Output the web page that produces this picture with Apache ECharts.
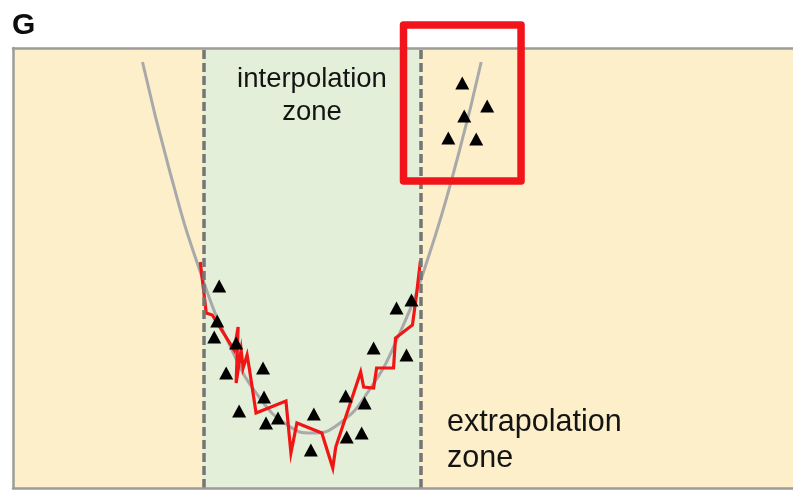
<!DOCTYPE html>
<html>
<head>
<meta charset="utf-8">
<script src="https://cdn.jsdelivr.net/npm/echarts@6/dist/echarts.min.js"></script>
<style>
  html, body { margin: 0; padding: 0; background: #ffffff; }
  #chart { width: 793px; height: 491px; }
</style>
</head>
<body>
<div id="chart"></div>
<script>
// Smooth underlying trend (grey curve), sampled along its course
const trendCurve = [
  [130, 426], [157, 318], [187, 219], [217, 144], [247, 91], [277, 62],
  [300, 55], [327, 64], [357, 97], [387, 152], [417, 231], [447, 333], [470, 426]
];

// Jagged model fit inside the interpolation zone (red line)
const modelFit = [
  [188, 226], [194, 175], [200, 173], [222, 138], [226, 161], [224, 105],
  [229, 138], [231, 120], [235, 133], [237, 121], [244, 75], [274, 87],
  [279, 35], [285, 65], [310, 55], [321, 20], [324, 41], [349, 116],
  [352, 101], [362, 100], [365, 120], [382, 120], [384, 150], [401, 163],
  [405, 193], [409, 227]
];

// Observed samples within the training range
const samplesInside = [
  [207, 202], [205, 167], [202, 151], [224, 145], [214, 115], [251, 120],
  [227, 77], [252, 91], [254, 65], [266, 70], [302, 74], [299, 38],
  [334, 92], [353, 85], [335, 51], [350, 55], [362, 140], [395, 133],
  [385, 180], [400, 188]
];

// Observed samples beyond the training range
const samplesOutside = [
  [451, 405], [476, 382], [453, 372], [437, 350], [465, 349]
];

// Edges of the interpolation zone
const zoneEdges = [191, 409];

// Highlight box around the out-of-range samples: [left, right, bottom, top]
const boxBounds = [392, 510, 307, 463];

const panelLetter = 'G';
const innerLabel = 'interpolation\nzone';
const outerLabel = 'extrapolation\nzone';

const boxPath = [
  [boxBounds[0], boxBounds[3]], [boxBounds[1], boxBounds[3]],
  [boxBounds[1], boxBounds[2]], [boxBounds[0], boxBounds[2]],
  [boxBounds[0], boxBounds[3]], [boxBounds[1], boxBounds[3]]
];

const FONT = '"Liberation Sans", Arial, Helvetica, sans-serif';
const frameLine = { show: true, onZero: false, lineStyle: { color: '#9d9c98', width: 2.5 } };
const hidden = { axisTick: { show: false }, axisLabel: { show: false }, splitLine: { show: false } };

const chart = echarts.init(document.getElementById('chart'), null, { renderer: 'canvas' });

chart.setOption({
  animation: false,
  grid: { left: 13, right: -3, top: 48, bottom: 3, show: true, backgroundColor: '#fdefca', borderWidth: 0 },
  xAxis: [
    Object.assign({ type: 'value', min: 0, max: 783, position: 'bottom', axisLine: frameLine, z: 6 }, hidden),
    Object.assign({ type: 'value', min: 0, max: 783, position: 'top', axisLine: frameLine, z: 6 }, hidden)
  ],
  yAxis: Object.assign({ type: 'value', min: 0, max: 440, position: 'left', axisLine: frameLine, z: 6 }, hidden),
  series: [
    {
      type: 'scatter', data: [], z: 1, silent: true,
      markArea: {
        silent: true,
        itemStyle: { color: '#e3efd8' },
        data: [[{ xAxis: zoneEdges[0] }, { xAxis: zoneEdges[1] }]]
      }
    },
    {
      type: 'scatter', data: [], z: 2, silent: true,
      markLine: {
        silent: true, symbol: 'none', label: { show: false },
        lineStyle: { color: '#757575', width: 3.5, type: [9, 4] },
        data: zoneEdges.map(v => ({ xAxis: v }))
      }
    },
    {
      type: 'line', data: trendCurve, smooth: true, symbol: 'none', z: 3,
      lineStyle: { color: '#a9a9a9', width: 3 }
    },
    {
      type: 'line', data: modelFit, symbol: 'none', z: 4,
      lineStyle: { color: '#f01616', width: 3.2, join: 'miter' }
    },
    {
      type: 'scatter', data: samplesInside.concat(samplesOutside), z: 5,
      symbol: 'triangle', symbolSize: [14, 13],
      itemStyle: { color: '#000000', opacity: 1 }
    },
    {
      type: 'line', data: boxPath, symbol: 'none', clip: false, z: 8,
      lineStyle: { color: '#f2141b', width: 7.5, join: 'round', cap: 'round' }
    }
  ],
  graphic: [
    {
      type: 'text', x: 12, y: 26, z: 10,
      style: { text: panelLetter, font: 'bold 30px ' + FONT, fill: '#0d0d0d', textVerticalAlign: 'middle' }
    },
    {
      type: 'text', x: 312, y: 63, z: 10,
      style: { text: innerLabel, font: '27.5px ' + FONT, lineHeight: 33, fill: '#141414', textAlign: 'center', textVerticalAlign: 'top' }
    },
    {
      type: 'text', x: 447, y: 405, z: 10,
      style: { text: outerLabel, font: '30.5px ' + FONT, lineHeight: 36, fill: '#141414', textAlign: 'left', textVerticalAlign: 'top' }
    }
  ]
});
</script>
</body>
</html>
